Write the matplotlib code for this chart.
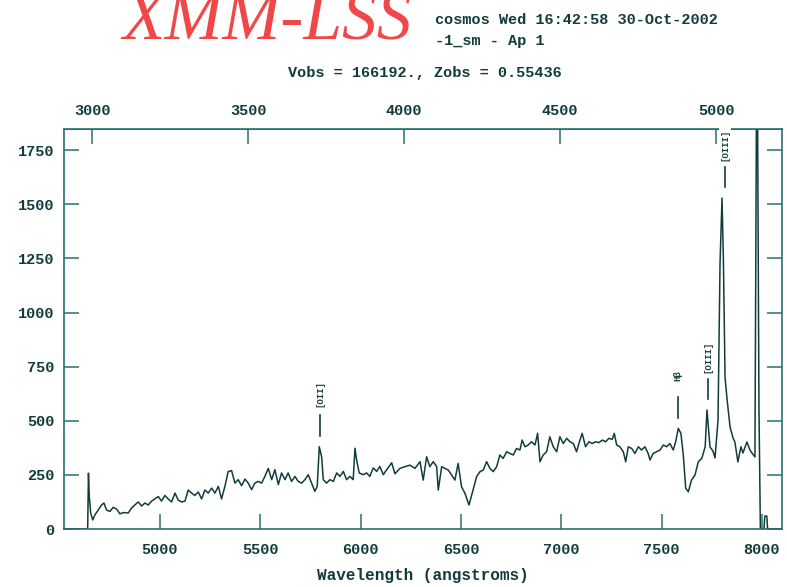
import matplotlib
matplotlib.use("Agg")
import matplotlib.pyplot as plt

# redshift of the object
zobs = 0.55436
vobs = 166192.

# observed wavelength (angstroms) and flux of the extracted spectrum
wave = [4525, 4640, 4644, 4648, 4655, 4665, 4676, 4693, 4709, 4721, 4734, 4751,
        4767, 4784, 4801, 4817, 4842, 4859, 4875, 4892, 4909, 4925, 4942, 4959,
        4975, 4992, 5008, 5025, 5041, 5058, 5075, 5091, 5108, 5125, 5141, 5158,
        5174, 5191, 5208, 5224, 5241, 5258, 5274, 5291, 5307, 5324, 5340, 5357,
        5374, 5390, 5407, 5424, 5440, 5457, 5473, 5490, 5507, 5523, 5540, 5557,
        5573, 5590, 5606, 5623, 5639, 5656, 5673, 5689, 5706, 5723, 5739, 5756,
        5772, 5784, 5794, 5806, 5814, 5831, 5847, 5864, 5881, 5897, 5914, 5930,
        5947, 5963, 5972, 5980, 5993, 6013, 6030, 6046, 6063, 6080, 6096, 6113,
        6130, 6155, 6171, 6196, 6221, 6246, 6271, 6296, 6312, 6329, 6345, 6362,
        6379, 6387, 6404, 6420, 6437, 6454, 6470, 6486, 6503, 6520, 6540, 6556,
        6578, 6595, 6611, 6628, 6644, 6661, 6678, 6694, 6710, 6728, 6744, 6761,
        6777, 6794, 6805, 6819, 6835, 6852, 6869, 6882, 6894, 6910, 6927, 6943,
        6960, 6977, 6993, 7010, 7027, 7043, 7060, 7076, 7093, 7104, 7121, 7138,
        7154, 7171, 7188, 7204, 7221, 7237, 7254, 7264, 7276, 7292, 7309, 7321,
        7334, 7351, 7367, 7384, 7400, 7417, 7433, 7442, 7458, 7475, 7492, 7508,
        7525, 7541, 7558, 7570, 7583, 7596, 7608, 7620, 7633, 7649, 7666, 7683,
        7700, 7717, 7726, 7741, 7756, 7766, 7781, 7791, 7801, 7808, 7816, 7826,
        7841, 7856, 7865, 7880, 7895, 7905, 7925, 7940, 7950, 7965, 7975, 7985,
        7992, 8010, 8014, 8024, 8028, 8095]
flux = [0, 0, 258, 150, 74, 42, 65, 88, 111, 120, 88, 81,
        100, 92, 70, 76, 74, 97, 111, 125, 106, 120, 111, 129,
        139, 150, 129, 155, 139, 125, 166, 134, 125, 129, 180, 166,
        155, 171, 139, 180, 166, 189, 166, 197, 139, 197, 265, 270,
        212, 228, 200, 231, 212, 182, 212, 220, 212, 243, 280, 228,
        274, 205, 259, 228, 259, 220, 243, 220, 212, 228, 251, 212,
        174, 197, 380, 333, 228, 212, 228, 220, 259, 243, 266, 228,
        243, 228, 373, 320, 259, 251, 259, 243, 282, 266, 289, 251,
        274, 306, 255, 280, 288, 295, 280, 311, 226, 334, 288, 311,
        288, 180, 288, 280, 272, 249, 226, 303, 195, 165, 111, 165,
        242, 265, 272, 311, 280, 265, 288, 342, 326, 357, 349, 342,
        372, 365, 411, 380, 388, 403, 388, 442, 311, 342, 357, 426,
        380, 357, 426, 395, 419, 403, 395, 357, 411, 442, 380, 403,
        395, 403, 399, 411, 403, 419, 414, 442, 388, 380, 357, 311,
        380, 372, 349, 380, 365, 380, 349, 319, 349, 357, 365, 388,
        380, 395, 365, 403, 465, 442, 342, 188, 172, 226, 249, 311,
        326, 380, 550, 379, 360, 328, 504, 1229, 1529, 1229, 700, 600,
        471, 420, 402, 310, 380, 351, 402, 365, 351, 333, 2500, 560,
        0, 0, 60, 60, 0, 0]

# identified emission lines: observed position, peak flux, label
line_wave = [5797, 7581, 7731, 7816]
line_peak = [380, 465, 550, 1529]
line_names = ["[OII]", "H\u03b2", "[OIII]", "[OIII]"]

ink = "#123c3c"
frame = "#2a7070"
mono = "Liberation Mono"

fig = plt.figure(figsize=(7.87, 5.87), dpi=100)
ax = fig.add_axes([0.0813, 0.0988, 0.9124, 0.6814])

ax.plot(wave, flux, color=ink, linewidth=1.1)
ax.set_xlim(4522, 8100)
ax.set_ylim(0, 1848)

ax.set_xticks([5000, 5500, 6000, 6500, 7000, 7500, 8000])
ax.set_yticks([0, 250, 500, 750, 1000, 1250, 1500, 1750])
ax.tick_params(direction="in", length=11, width=1.1, color=frame,
               labelsize=11, labelcolor=ink, right=True)
ax.tick_params(axis="y", pad=7)
ax.tick_params(axis="x", pad=10)
for lab in ax.get_xticklabels() + ax.get_yticklabels():
    lab.set_family(mono)
    lab.set_weight("bold")
for sp in ax.spines.values():
    sp.set_color(frame)
    sp.set_linewidth(1.2)

ax.set_xlabel("Wavelength (angstroms)", family=mono, weight="bold",
              fontsize=11.5, color=ink, labelpad=8)

# rest-frame wavelength scale along the top
top = ax.secondary_xaxis("top", functions=(lambda w: w / (1 + zobs),
                                           lambda r: r * (1 + zobs)))
top.set_xticks([3000, 3500, 4000, 4500, 5000])
top.tick_params(direction="in", length=11, width=1.1, color=frame,
                labelsize=11, labelcolor=ink, pad=8)
for lab in top.get_xticklabels():
    lab.set_family(mono)
    lab.set_weight("bold")
top.spines["top"].set_color(frame)

# line markers: short dash above the peak, rotated name above that
for w, p, name in zip(line_wave, line_peak, line_names):
    ax.plot([w, w], [p + 50, p + 145], color=ink, linewidth=1.2)
    ax.text(w, p + 245, name, rotation=90, ha="center", va="center",
            fontsize=6.5, family=mono, weight="bold", color=ink,
            bbox=dict(boxstyle="square,pad=0.15", fc="white", ec="none"))

fig.text(0.156, 0.932, "XMM-LSS", family="Liberation Serif", style="italic",
         fontsize=50, color="#f04848", va="baseline")
fig.text(0.553, 0.966, "cosmos Wed 16:42:58 30-Oct-2002", family=mono,
         weight="bold", fontsize=11, color=ink, va="center")
fig.text(0.553, 0.931, "-1_sm - Ap 1", family=mono, weight="bold",
         fontsize=11, color=ink, va="center")
fig.text(0.54, 0.876, f"Vobs = {vobs:.0f}., Zobs = {zobs}", family=mono,
         weight="bold", fontsize=11, color=ink, ha="center", va="center")

fig.savefig("out.png", dpi=100)
